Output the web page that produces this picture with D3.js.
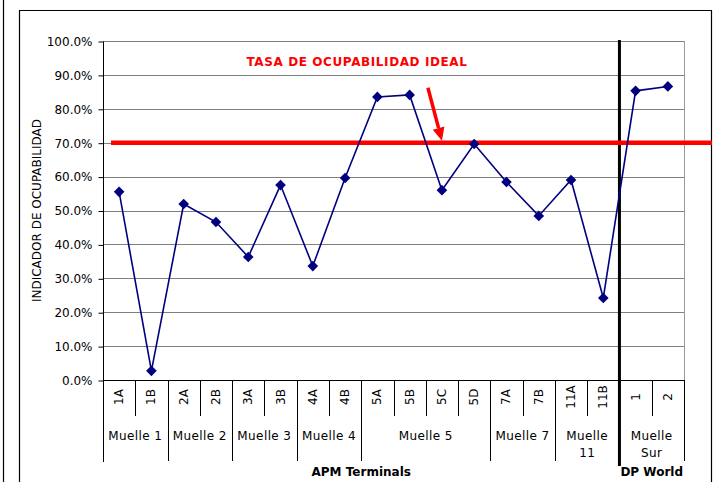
<!DOCTYPE html>
<html>
<head>
<meta charset="utf-8">
<script src="https://cdn.jsdelivr.net/npm/d3@7"></script>
<style>
  body { margin: 0; background: #fff; }
  svg { display: block; font-family: "DejaVu Sans", sans-serif; }
</style>
</head>
<body>
<script>
// data
var categories = ["1A", "1B", "2A", "2B", "3A", "3B", "4A", "4B", "5A", "5B", "5C", "5D", "7A", "7B", "11A", "11B", "1", "2"];
var values = [0.555, 0.027, 0.519, 0.466, 0.363, 0.575, 0.336, 0.596, 0.835, 0.841, 0.560, 0.696, 0.584, 0.484, 0.590, 0.242, 0.853, 0.866];
var groupLabels = [["Muelle 1"], ["Muelle 2"], ["Muelle 3"], ["Muelle 4"], ["Muelle 5"], ["Muelle 7"], ["Muelle", "11"], ["Muelle", "Sur"]];
var groupSizes = [2, 2, 2, 2, 4, 2, 2, 2];
var operators = ["APM Terminals", "DP World"];
var operatorSizes = [16, 2];
var yTicks = [0, 0.1, 0.2, 0.3, 0.4, 0.5, 0.6, 0.7, 0.8, 0.9, 1.0];
var ideal = 0.70;
var idealLabel = "TASA DE OCUPABILIDAD IDEAL";
var yTitle = "INDICADOR DE OCUPABILIDAD";

var width = 719, height = 482;
var plotLeft = 103, plotRight = 684, plotTop = 41, plotBottom = 380;

var svg = d3.select("body").append("svg")
    .attr("width", width)
    .attr("height", height);

// outer frames
svg.append("line").attr("x1", 3.5).attr("x2", 3.5).attr("y1", 0).attr("y2", height)
    .attr("stroke", "#000").attr("stroke-width", 1.2);
svg.append("path")
    .attr("d", "M19.5," + height + "V10.5H711.5V" + height)
    .attr("fill", "none").attr("stroke", "#000").attr("stroke-width", 1.2);

var x = d3.scaleBand().domain(categories).range([plotLeft, plotRight]);
var y = d3.scaleLinear().domain([0, 1]).range([plotBottom, plotTop]);

// gridlines
svg.append("g").selectAll("line")
    .data(yTicks.slice(1))
    .enter().append("line")
    .attr("x1", plotLeft).attr("x2", plotRight)
    .attr("y1", function(d) { return Math.round(y(d)) + 0.5; })
    .attr("y2", function(d) { return Math.round(y(d)) + 0.5; })
    .attr("stroke", "#7f7f7f").attr("stroke-width", 1);

svg.append("line")
    .attr("x1", plotRight + 0.5).attr("x2", plotRight + 0.5)
    .attr("y1", y(1)).attr("y2", plotBottom)
    .attr("stroke", "#9a9a9a");

// y axis
var yAxis = d3.axisLeft(y)
    .tickValues(yTicks)
    .tickSize(5)
    .tickFormat(d3.format(".1%"));

svg.append("g")
    .attr("transform", "translate(" + (plotLeft + 0.5) + ",0.5)")
    .call(yAxis)
    .call(function(g) {
        g.select(".domain").attr("d", "M0," + y(1) + "V" + plotBottom);
        g.selectAll("text").attr("font-size", 12).attr("font-family", "DejaVu Sans").attr("fill", "#000").attr("dx", -3);
    });

svg.append("text")
    .attr("transform", "translate(41," + ((plotTop + plotBottom) / 2) + ") rotate(-90)")
    .attr("text-anchor", "middle")
    .attr("font-size", 12)
    .text(yTitle);

// x axis line
svg.append("line")
    .attr("x1", plotLeft).attr("x2", plotRight)
    .attr("y1", plotBottom + 0.5).attr("y2", plotBottom + 0.5)
    .attr("stroke", "#000");

// category separators
var bw = x.bandwidth();
svg.append("g").selectAll("line")
    .data(categories)
    .enter().append("line")
    .attr("x1", function(d) { return Math.round(x(d) + bw) + 0.5; })
    .attr("x2", function(d) { return Math.round(x(d) + bw) + 0.5; })
    .attr("y1", plotBottom).attr("y2", 416)
    .attr("stroke", "#000");

svg.append("g").selectAll("text")
    .data(categories)
    .enter().append("text")
    .attr("transform", function(d) { return "translate(" + (x(d) + bw / 2 + 4) + ",397) rotate(-90)"; })
    .attr("text-anchor", "middle")
    .attr("font-size", 12)
    .text(function(d) { return d; });

// group (muelle) labels and separators
var start = 0;
var groupStarts = groupSizes.map(function(n) { var s = start; start += n; return s; });

svg.append("line")
    .attr("x1", plotLeft + 0.5).attr("x2", plotLeft + 0.5)
    .attr("y1", plotBottom).attr("y2", 462)
    .attr("stroke", "#000");

var groups = svg.append("g").selectAll("g")
    .data(groupLabels)
    .enter().append("g");

groups.append("line")
    .attr("x1", function(d, i) { return Math.round(x(categories[groupStarts[i] + groupSizes[i] - 1]) + bw) + 0.5; })
    .attr("x2", function(d, i) { return Math.round(x(categories[groupStarts[i] + groupSizes[i] - 1]) + bw) + 0.5; })
    .attr("y1", plotBottom).attr("y2", 461)
    .attr("stroke", "#000");

groups.append("text")
    .attr("text-anchor", "middle")
    .attr("font-size", 12)
    .attr("letter-spacing", 0.4)
    .selectAll("tspan")
    .data(function(d, i) {
        var cx = x(categories[groupStarts[i]]) + groupSizes[i] * bw / 2;
        return d.map(function(t, k) { return { t: t, cx: cx, k: k }; });
    })
    .enter().append("tspan")
    .attr("x", function(d) { return d.cx; })
    .attr("y", function(d) { return 440 + d.k * 17; })
    .text(function(d) { return d.t; });

// operator labels
var ostart = 0;
operators.forEach(function(op, i) {
    var cx = x(categories[ostart]) + operatorSizes[i] * bw / 2;
    svg.append("text")
        .attr("x", cx).attr("y", 476)
        .attr("text-anchor", "middle")
        .attr("font-size", 12)
        .attr("font-weight", "bold")
        .text(op);
    ostart += operatorSizes[i];
});

// divider between operators
var divX = x(categories[operatorSizes[0]]);
svg.append("line")
    .attr("x1", divX).attr("x2", divX)
    .attr("y1", plotTop - 1).attr("y2", 466)
    .attr("stroke", "#000").attr("stroke-width", 3);

// ideal line
svg.append("line")
    .attr("x1", 111).attr("x2", 712)
    .attr("y1", y(ideal)).attr("y2", y(ideal))
    .attr("stroke", "#ff0000").attr("stroke-width", 4.5);

svg.append("text")
    .attr("x", 357).attr("y", 66)
    .attr("text-anchor", "middle")
    .attr("font-size", 12)
    .attr("font-weight", "bold")
    .attr("letter-spacing", 0.6)
    .attr("fill", "#ff0000")
    .text(idealLabel);

// arrow pointing at the ideal line
var tipX = x("5C") + bw / 2, tipY = y(ideal) - 2;
var sx = tipX - 14, sy = tipY - 53;
var ang = Math.atan2(tipY - sy, tipX - sx);
var hl = 13, hw = 6;
var bx = tipX - hl * Math.cos(ang), by = tipY - hl * Math.sin(ang);
svg.append("line")
    .attr("x1", sx).attr("y1", sy).attr("x2", bx).attr("y2", by)
    .attr("stroke", "#ff0000").attr("stroke-width", 3.5);
svg.append("path")
    .attr("d", "M" + tipX + "," + tipY +
        "L" + (bx + hw * Math.sin(ang)) + "," + (by - hw * Math.cos(ang)) +
        "L" + (bx - hw * Math.sin(ang)) + "," + (by + hw * Math.cos(ang)) + "Z")
    .attr("fill", "#ff0000");

// series line and markers
var line = d3.line()
    .x(function(d, i) { return x(categories[i]) + bw / 2; })
    .y(function(d) { return y(d); });

svg.append("path")
    .datum(values)
    .attr("d", line)
    .attr("fill", "none")
    .attr("stroke", "#000080")
    .attr("stroke-width", 1.6);

svg.append("g").selectAll("path")
    .data(values)
    .enter().append("path")
    .attr("transform", function(d, i) { return "translate(" + (x(categories[i]) + bw / 2) + "," + y(d) + ")"; })
    .attr("d", d3.symbol().type(d3.symbolDiamond2).size(72))
    .attr("fill", "#000080");
</script>
</body>
</html>
